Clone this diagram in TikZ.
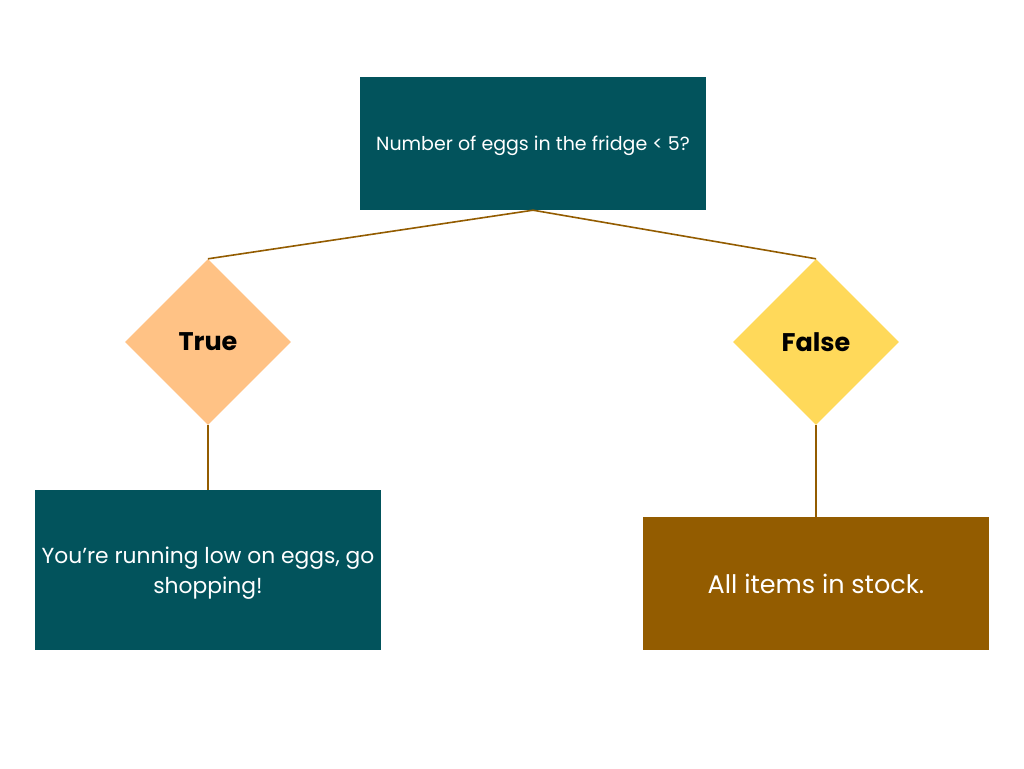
\documentclass[tikz,border=0pt]{standalone}
\usepackage{fontspec}
\setmainfont{Poppins}
\usetikzlibrary{shapes.geometric}
\definecolor{teal}{HTML}{02535C}
\definecolor{peach}{HTML}{FFC285}
\definecolor{sun}{HTML}{FFD95A}
\definecolor{brownish}{HTML}{935C00}
\tikzset{
  box/.style={rectangle, inner sep=0pt, text=white, align=center, text depth=0pt},
  dia/.style={diamond, inner sep=0pt, minimum width=166pt, minimum height=166pt, aspect=1, text=black, font=\fontsize{25.5}{30}\selectfont\bfseries},
  link/.style={draw=brownish, line width=1.6pt}
}
\begin{document}
\begin{tikzpicture}[x=1pt,y=-1pt]
\useasboundingbox[fill=white] (0,0) rectangle (1024,768);
\node[box, fill=teal, minimum width=346pt, minimum height=133pt, font=\fontsize{19}{23}\selectfont] (q) at (533,143.5) {Number of eggs in the fridge < 5?};
\node[dia, fill=peach] (t) at (208,342) {True};
\node[dia, fill=sun] (f) at (816,342) {False};
\node[box, fill=teal, minimum width=346pt, minimum height=160pt, font=\fontsize{21.8}{30}\selectfont] (yes) at (208,570) {You’re running low on eggs, go\\shopping!};
\node[box, fill=brownish, minimum width=346pt, minimum height=133pt, font=\fontsize{25.5}{30}\selectfont] (no) at (816,583.5) {All items in stock.};
\draw[link] (q.south) -- (t.north);
\draw[link] (q.south) -- (f.north);
\draw[link] (t.south) -- (yes.north);
\draw[link] (f.south) -- (no.north);
\end{tikzpicture}
\end{document}
